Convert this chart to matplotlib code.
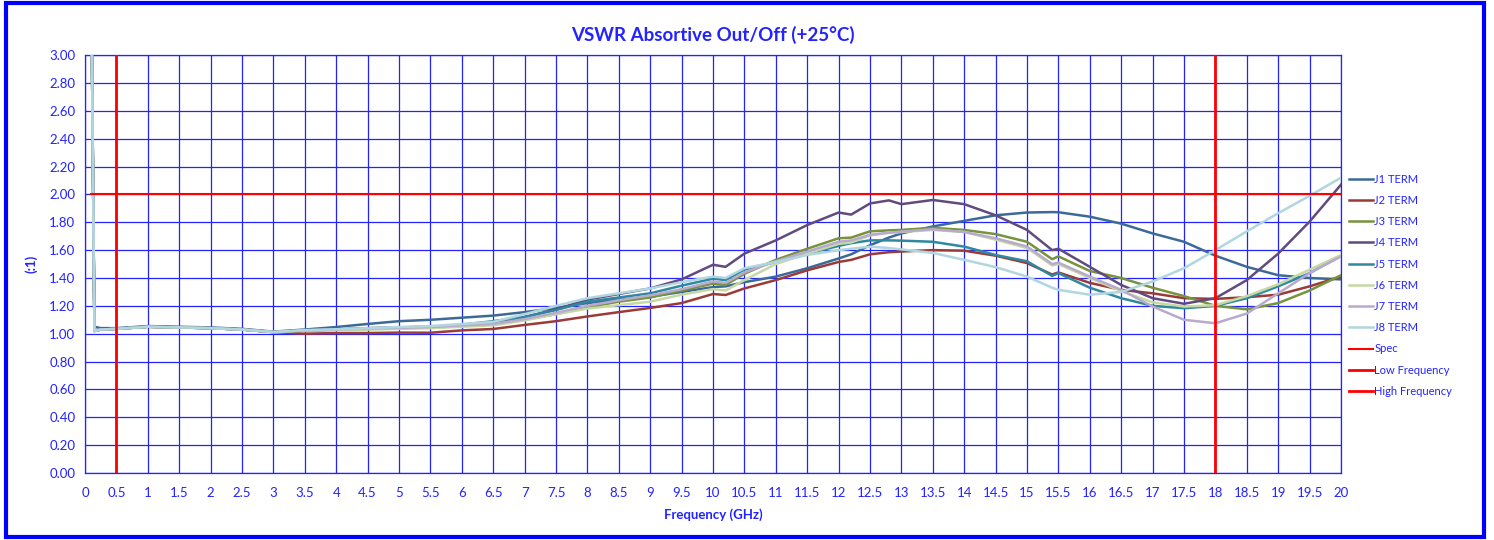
import matplotlib
matplotlib.use("Agg")
import matplotlib.pyplot as plt
import matplotlib.patches as patches
import numpy as np

plt.rcParams['font.family'] = ['Lato', 'DejaVu Sans']

# frequency points (GHz)
freq = [0.1, 0.15, 0.25, 0.5, 1, 1.5, 2, 2.5, 3, 3.5, 4, 4.5, 5, 5.5, 6, 6.5,
        7, 7.5, 8, 8.5, 9, 9.5, 10, 10.2, 10.5, 11, 11.5, 12, 12.2, 12.5, 12.8,
        13, 13.5, 14, 14.5, 15, 15.4, 15.5, 16, 16.5, 17, 17.5, 18, 18.5, 19,
        19.5, 20]

j1 = [3.5, 1.05, 1.04, 1.04, 1.055, 1.05, 1.045, 1.035, 1.015, 1.03, 1.048,
      1.07, 1.09, 1.10, 1.115, 1.13, 1.155, 1.185, 1.22, 1.245, 1.265, 1.30,
      1.335, 1.34, 1.37, 1.41, 1.47, 1.54, 1.57, 1.635, 1.69, 1.72, 1.77, 1.81,
      1.85, 1.87, 1.873, 1.872, 1.84, 1.79, 1.72, 1.66, 1.56, 1.48, 1.42, 1.40,
      1.39]
j2 = [3.5, 1.02, 1.03, 1.035, 1.05, 1.045, 1.04, 1.03, 1.012, 1.0, 1.005,
      1.005, 1.008, 1.007, 1.024, 1.034, 1.063, 1.09, 1.124, 1.155, 1.185,
      1.22, 1.285, 1.278, 1.325, 1.385, 1.455, 1.515, 1.53, 1.57, 1.585, 1.59,
      1.60, 1.596, 1.56, 1.507, 1.425, 1.44, 1.365, 1.315, 1.29, 1.255, 1.25,
      1.262, 1.28, 1.34, 1.41]
j3 = [3.5, 1.02, 1.03, 1.035, 1.05, 1.045, 1.04, 1.03, 1.012, 1.022, 1.028,
      1.035, 1.04, 1.045, 1.06, 1.075, 1.105, 1.14, 1.19, 1.23, 1.26, 1.31,
      1.36, 1.35, 1.43, 1.53, 1.61, 1.685, 1.69, 1.735, 1.742, 1.745, 1.76,
      1.745, 1.715, 1.66, 1.535, 1.555, 1.45, 1.40, 1.33, 1.27, 1.20, 1.175,
      1.22, 1.31, 1.42]
j4 = [3.5, 1.02, 1.03, 1.035, 1.05, 1.045, 1.04, 1.03, 1.012, 1.025, 1.03,
      1.04, 1.045, 1.05, 1.06, 1.08, 1.12, 1.175, 1.245, 1.285, 1.325, 1.39,
      1.495, 1.48, 1.575, 1.67, 1.78, 1.87, 1.855, 1.935, 1.957, 1.93, 1.96,
      1.93, 1.85, 1.745, 1.60, 1.61, 1.48, 1.35, 1.255, 1.215, 1.255, 1.385,
      1.575, 1.805, 2.07]
j5 = [3.5, 1.02, 1.03, 1.035, 1.05, 1.045, 1.04, 1.03, 1.012, 1.025, 1.03,
      1.038, 1.045, 1.05, 1.065, 1.09, 1.12, 1.17, 1.23, 1.26, 1.29, 1.345,
      1.395, 1.385, 1.46, 1.515, 1.575, 1.63, 1.65, 1.67, 1.67, 1.668, 1.66,
      1.625, 1.565, 1.52, 1.415, 1.435, 1.33, 1.255, 1.20, 1.183, 1.20, 1.255,
      1.34, 1.435, 1.56]
j6 = [3.5, 1.02, 1.03, 1.035, 1.05, 1.045, 1.04, 1.03, 1.012, 1.022, 1.026,
      1.03, 1.035, 1.04, 1.05, 1.06, 1.095, 1.14, 1.18, 1.205, 1.23, 1.28,
      1.32, 1.31, 1.385, 1.50, 1.575, 1.645, 1.655, 1.705, 1.725, 1.73, 1.745,
      1.73, 1.675, 1.615, 1.49, 1.50, 1.40, 1.305, 1.225, 1.195, 1.205, 1.27,
      1.355, 1.46, 1.565]
j7 = [3.5, 1.02, 1.03, 1.035, 1.05, 1.045, 1.04, 1.03, 1.012, 1.024, 1.03,
      1.037, 1.042, 1.048, 1.06, 1.07, 1.105, 1.15, 1.20, 1.24, 1.275, 1.32,
      1.375, 1.365, 1.44, 1.52, 1.59, 1.66, 1.67, 1.71, 1.725, 1.733, 1.75,
      1.73, 1.685, 1.626, 1.50, 1.51, 1.41, 1.315, 1.195, 1.10, 1.075, 1.145,
      1.29, 1.435, 1.555]
j8 = [3.5, 1.02, 1.03, 1.035, 1.05, 1.045, 1.04, 1.03, 1.012, 1.026, 1.032,
      1.04, 1.048, 1.055, 1.07, 1.085, 1.14, 1.20, 1.255, 1.29, 1.325, 1.37,
      1.41, 1.40, 1.47, 1.515, 1.565, 1.60, 1.61, 1.625, 1.615, 1.605, 1.58,
      1.53, 1.478, 1.41, 1.33, 1.315, 1.28, 1.30, 1.375, 1.47, 1.60, 1.735,
      1.865, 1.99, 2.12]

series = [("J1 TERM", j1, "#3C6A98"), ("J2 TERM", j2, "#9B3B38"),
          ("J3 TERM", j3, "#77933C"), ("J4 TERM", j4, "#614A7E"),
          ("J5 TERM", j5, "#2E88A0"), ("J6 TERM", j6, "#C6D9A3"),
          ("J7 TERM", j7, "#B8AACD"), ("J8 TERM", j8, "#B0D6E0")]

spec_level = 2.0
low_freq = 0.5
high_freq = 18

blue = "#2323FF"

fig = plt.figure(figsize=(14.94, 5.40), dpi=100)
ax = fig.add_axes([0.0569, 0.124, 0.8407, 0.774])

for name, vals, col in series:
    ax.plot(freq, vals, color=col, lw=1.8, label=name, zorder=3)

ax.plot([0.1, 20], [spec_level, spec_level], color="red", lw=1.5, label="Spec", zorder=4)
ax.plot([low_freq, low_freq], [0, 3], color="red", lw=2, label="Low Frequency", zorder=4)
ax.plot([high_freq, high_freq], [0, 3], color="red", lw=2, label="High Frequency", zorder=4)

ax.set_xlim(0, 20)
ax.set_ylim(0, 3)
ax.set_xticks(np.arange(0, 20.01, 0.5))
ax.set_xticklabels([("%g" % v) for v in np.arange(0, 20.01, 0.5)])
ax.set_yticks(np.arange(0, 3.001, 0.2))
ax.set_yticklabels(["%.2f" % v for v in np.arange(0, 3.001, 0.2)])
ax.grid(True, color=blue, lw=0.9, zorder=1)
ax.set_axisbelow(True)
ax.tick_params(axis="x", length=0, colors=blue, labelsize=9.5, pad=10)
ax.tick_params(axis="y", length=0, colors=blue, labelsize=9.5, pad=7)
for s in ax.spines.values():
    s.set_color(blue)
    s.set_linewidth(0.9)

ax.set_title("VSWR Absortive Out/Off (+25°C)", color=blue, fontsize=13.5,
             fontweight="bold", pad=10)
ax.set_xlabel("Frequency (GHz)", color=blue, fontsize=9.5, fontweight="bold", labelpad=7)
ax.set_ylabel("(:1)", color=blue, fontsize=9.5, fontweight="bold", labelpad=8)

ax.legend(loc="upper left", bbox_to_anchor=(1.0, 0.735), frameon=False,
          fontsize=8, labelcolor=blue, handlelength=2.2, handletextpad=0.1,
          labelspacing=0.92, borderaxespad=0.3)

fig.patches.append(patches.Rectangle((0.004, 0.006), 0.989, 0.988,
                                     transform=fig.transFigure, fill=False,
                                     edgecolor="#0000FF", lw=3))

fig.savefig("out.png", dpi=100)
